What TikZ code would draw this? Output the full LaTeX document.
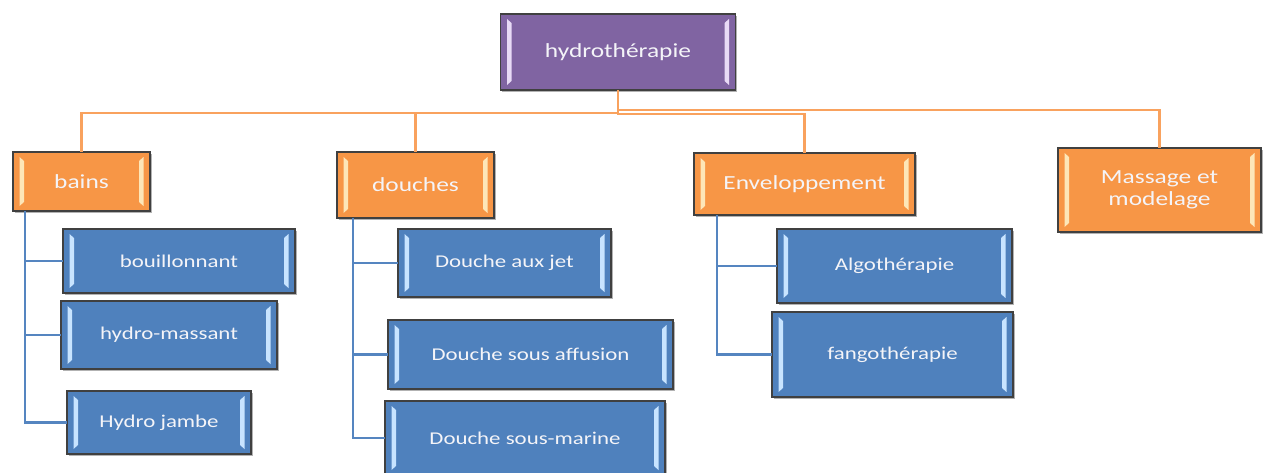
\documentclass[tikz,border=0pt]{standalone}
\usepackage{fontspec}
\newfontfamily\boxfont[FakeStretch=1.27]{Carlito}
\usetikzlibrary{shadows}
\definecolor{purp}{HTML}{8064A2}
\definecolor{oran}{HTML}{F79646}
\definecolor{blu}{HTML}{4F81BD}
\definecolor{edgegray}{HTML}{404040}
\definecolor{olink}{HTML}{F9A25E}
\definecolor{blink}{HTML}{5585C0}
\definecolor{txt}{HTML}{F4F4F8}
\definecolor{hlblue}{HTML}{C8E4FF}
\definecolor{hloran}{HTML}{FDE6B8}
\definecolor{hlpurp}{HTML}{E8DAF6}
\tikzset{
  bevel/.style={path picture={
    \fill[#1] ([shift={(6.5pt,-5pt)}]path picture bounding box.north west)
      -- ([shift={(11pt,-9pt)}]path picture bounding box.north west)
      -- ([shift={(11pt,9pt)}]path picture bounding box.south west)
      -- ([shift={(6.5pt,5pt)}]path picture bounding box.south west) -- cycle;
    \fill[#1] ([shift={(-6.5pt,-5pt)}]path picture bounding box.north east)
      -- ([shift={(-11pt,-9pt)}]path picture bounding box.north east)
      -- ([shift={(-11pt,9pt)}]path picture bounding box.south east)
      -- ([shift={(-6.5pt,5pt)}]path picture bounding box.south east) -- cycle;
  }},
  box/.style={draw=edgegray, line width=1.3pt, rectangle, inner sep=0pt, outer sep=0pt,
    align=center, text=txt,
    drop shadow={shadow xshift=1.5pt, shadow yshift=-1.5pt, opacity=0.3, fill=black}},
  topbox/.style={box, fill=purp, bevel=hlpurp, font=\boxfont\fontsize{20}{24}\selectfont},
  obox/.style={box, fill=oran, bevel=hloran, font=\boxfont\fontsize{20}{22}\selectfont},
  bbox/.style={box, fill=blu, bevel=hlblue, font=\boxfont\fontsize{18}{22}\selectfont},
  olinks/.style={draw=olink, line width=2.4pt},
  blinks/.style={draw=blink, line width=2.6pt},
}
\begin{document}
\begin{tikzpicture}[x=1pt,y=-1pt]
\clip (0,0) rectangle (1267,472);
\fill[white] (0,0) rectangle (1267,472);
% top
\node[topbox, minimum width=235pt, minimum height=76pt] (top) at (618,52) {hydrothérapie};
% level 1
\node[obox, minimum width=137pt, minimum height=59pt] (bains) at (81.5,181.5) {bains};
\node[obox, minimum width=157pt, minimum height=66pt] (douches) at (415.5,185) {douches};
\node[obox, minimum width=221pt, minimum height=62pt] (env) at (804.5,184) {Enveloppement};
\node[obox, minimum width=203pt, minimum height=84pt] (mass) at (1159.5,190) {Massage et\\modelage};
% bains children
\node[bbox, minimum width=232pt, minimum height=64pt] (bouill) at (179,261) {bouillonnant};
\node[bbox, minimum width=216pt, minimum height=68pt] (hmass) at (169,335) {hydro-massant};
\node[bbox, minimum width=184pt, minimum height=63pt] (hjambe) at (159,422.5) {Hydro jambe};
% douches children
\node[bbox, minimum width=213pt, minimum height=68pt] (djet) at (504.5,263) {Douche aux jet};
\node[bbox, minimum width=285pt, minimum height=69pt] (daff) at (530.5,354.5) {Douche sous affusion};
\node[bbox, minimum width=280pt, minimum height=74pt] (dsm) at (525,438) {Douche sous-marine};
% enveloppement children
\node[bbox, minimum width=235pt, minimum height=74pt] (algo) at (894.5,266) {Algothérapie};
\node[bbox, minimum width=241pt, minimum height=85pt] (fango) at (892.5,354.5) {fangothérapie};
% orange connectors
\draw[olinks] (top.south) -- ++(0,23) -| (bains.north);
\draw[olinks] (top.south) -- ++(0,23) -| (douches.north);
\draw[olinks] (top.south) -- ++(0,24) -| (env.north);
\draw[olinks] (top.south) -- ++(0,20) -| (mass.north);
% blue connectors
\draw[blinks] ([xshift=12pt]bains.south west) |- (bouill.west);
\draw[blinks] ([xshift=12pt]bains.south west) |- (hmass.west);
\draw[blinks] ([xshift=12pt]bains.south west) |- (hjambe.west);
\draw[blinks] ([xshift=16pt]douches.south west) |- (djet.west);
\draw[blinks] ([xshift=16pt]douches.south west) |- (daff.west);
\draw[blinks] ([xshift=16pt]douches.south west) |- (dsm.west);
\draw[blinks] ([xshift=23pt]env.south west) |- (algo.west);
\draw[blinks] ([xshift=23pt]env.south west) |- (fango.west);
\end{tikzpicture}
\end{document}
